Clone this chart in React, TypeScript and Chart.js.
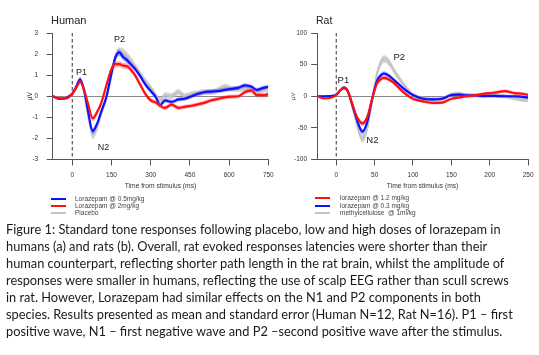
import React, { useEffect, useRef } from "react";
import { Chart, registerables } from "chart.js";

Chart.register(...registerables);

const FONT = "'Liberation Sans', Arial, Helvetica, sans-serif";
const CAPTION_FONT = "Lato, 'Open Sans', sans-serif";

// ---------------- Human data (µV) ----------------
const humanTime = [-75, -50, -25, 0, 15, 30, 45, 60, 78, 95, 110, 130, 150, 165, 180, 195, 210, 225, 240, 260, 280, 300, 320, 336, 355, 380, 406, 430, 457, 482, 508, 530, 559, 584, 610, 635, 661, 686, 706, 731, 750];
const humanLoraz05 = [0.0, -0.12, -0.08, 0.12, 0.45, 0.8, 0.3, -0.7, -1.65, -1.3, -0.75, -0.05, 1.1, 1.85, 2.08, 1.85, 1.7, 1.5, 1.3, 0.95, 0.55, 0.25, -0.05, -0.42, -0.2, -0.27, -0.15, -0.12, 0.0, 0.12, 0.2, 0.22, 0.25, 0.3, 0.35, 0.4, 0.52, 0.45, 0.3, 0.4, 0.45];
const humanLoraz2 = [0.0, -0.1, -0.1, 0.12, 0.4, 0.68, 0.3, -0.35, -1.05, -0.75, -0.35, 0.5, 1.3, 1.52, 1.52, 1.45, 1.42, 1.25, 1.0, 0.55, 0.1, -0.2, -0.3, -0.45, -0.55, -0.4, -0.55, -0.5, -0.45, -0.38, -0.3, -0.2, -0.12, -0.05, -0.02, 0.0, 0.2, 0.28, 0.05, 0.05, 0.1];
const humanPlacebo = [0.0, -0.1, -0.08, 0.12, 0.45, 0.78, 0.2, -0.85, -1.8, -1.45, -0.85, -0.1, 1.0, 1.85, 2.1, 2.05, 1.9, 1.65, 1.4, 1.05, 0.7, 0.4, 0.05, -0.2, 0.05, 0.0, 0.2, 0.0, 0.1, 0.15, 0.2, 0.2, 0.3, 0.45, 0.35, 0.35, 0.4, 0.25, 0.2, 0.3, 0.35];
const humanSE05 = [0.05, 0.06, 0.06, 0.07, 0.08, 0.1, 0.1, 0.12, 0.15, 0.14, 0.12, 0.12, 0.14, 0.15, 0.15, 0.15, 0.14, 0.13, 0.12, 0.12, 0.11, 0.1, 0.1, 0.1, 0.1, 0.1, 0.1, 0.1, 0.1, 0.1, 0.1, 0.1, 0.1, 0.1, 0.1, 0.1, 0.1, 0.1, 0.1, 0.1, 0.1];
const humanSE2 = [0.05, 0.06, 0.06, 0.07, 0.08, 0.1, 0.1, 0.12, 0.14, 0.13, 0.12, 0.12, 0.13, 0.14, 0.14, 0.14, 0.13, 0.13, 0.12, 0.12, 0.11, 0.1, 0.1, 0.1, 0.1, 0.1, 0.1, 0.1, 0.1, 0.1, 0.1, 0.1, 0.1, 0.1, 0.1, 0.1, 0.1, 0.1, 0.1, 0.1, 0.1];
const humanSEPlacebo = [0.06, 0.07, 0.07, 0.08, 0.1, 0.12, 0.14, 0.18, 0.24, 0.22, 0.18, 0.16, 0.18, 0.2, 0.22, 0.22, 0.2, 0.2, 0.18, 0.16, 0.15, 0.14, 0.14, 0.14, 0.14, 0.14, 0.14, 0.14, 0.14, 0.14, 0.14, 0.14, 0.14, 0.14, 0.14, 0.14, 0.14, 0.14, 0.14, 0.14, 0.14];
const humanXTicks = [0, 150, 300, 450, 600, 750];
const humanYTicks = [-3, -2, -1, 0, 1, 2, 3];
const humanPeakNames = ["P1", "N2", "P2"];
const humanPeakMs = [35, 119, 181];
const humanPeakUv = [1.14, -2.43, 2.71];

// ---------------- Rat data (µV) ----------------
const ratTime = [-25, -15, -5, 0, 5, 10, 15, 20, 25, 30, 34, 40, 47, 53, 58, 62, 68, 75, 87, 100, 113, 125, 138, 150, 160, 170, 180, 192, 205, 220, 232, 243, 250];
const ratLoraz03 = [0, 0, 0.5, 2.5, 9, 13.5, 8, -10, -30, -48, -56, -42, -3, 24, 33, 36, 33, 26, 13, 2, -4, -5, -4, 2, 2.5, 1.5, 1.5, 0.5, 0.5, 0, 0, -1, -2];
const ratLoraz12 = [0, -3.5, -1.5, 2, 9, 13, 8, -9, -27, -39, -43, -34, -3, 20, 27, 29, 27, 21, 7, -4, -8, -10.5, -10, -4, -2, 0, 1.5, 4, 5.5, 8, 5, 4, 2];
const ratMethylcellulose = [0, -1, 0.5, 2.5, 9, 13.5, 7, -12, -35, -58, -67, -52, -5, 35, 53, 59, 55, 41, 20, 2, -3, -5, -4, 3, 4, 2, 1.5, 0, 1, 0, -3.5, -6, -6];
const ratSE03 = [1, 1, 1, 1.5, 2, 2.5, 2.5, 3, 3.5, 4, 4, 4, 3.5, 3.5, 3.5, 3.5, 3.5, 3, 3, 2.5, 2.5, 2.5, 2.5, 2.5, 2.5, 2.5, 2.5, 2.5, 2.5, 2.5, 2.5, 2.5, 2.5];
const ratSE12 = [1, 1, 1, 1.5, 2, 2.5, 2.5, 3, 3.5, 4, 4, 4, 3.5, 3.5, 3.5, 3.5, 3.5, 3, 3, 2.5, 2.5, 2.5, 2.5, 2.5, 2.5, 2.5, 2.5, 2.5, 2.5, 2.5, 2.5, 2.5, 2.5];
const ratSEMethyl = [1, 1.5, 1.5, 2, 2.5, 3, 3, 4, 5, 6, 6.5, 6, 5, 5.5, 6, 6, 6, 5, 4, 3, 3, 3, 3, 3, 3, 3, 3, 3, 3, 3, 3, 3, 3];
const ratXTicks = [0, 50, 100, 150, 200, 250];
const ratYTicks = [-100, -50, 0, 50, 100];
const ratPeakNames = ["P1", "N2", "P2"];
const ratPeakMs = [9.3, 47, 82];
const ratPeakUv = [25, -69, 62];

const stimulusOnset = 0;

const BLUE = "#1010ff";
const RED = "#ff1010";
const GREY = "#c4c4c4";
const BLUE_BAND = "rgba(70,70,255,0.42)";
const RED_BAND = "rgba(255,70,70,0.42)";
const GREY_BAND = "rgba(170,170,170,0.5)";
const AXIS = "#555";
const TXT = "#333";

type Series = { mean: number[]; se: number[]; line: string; band: string; label: string };

type Spec = {
  time: number[];
  series: Series[]; // back to front
  xMin: number; xMax: number; yMin: number; yMax: number;
  xTicks: number[]; yTicks: number[];
  peakNames: string[]; peakX: number[]; peakY: number[]; peakSize: number;
  padLeft: number; padRight: number; padTop: number;
  yAxisW: number; xAxisH: number; yTickPad: number; yTitlePad: number; yTitleSize: number;
  w: number; h: number; left: number;
};

const onsetPlugin = {
  id: "onsetLine",
  beforeDatasetsDraw(chart: any) {
    const { ctx, chartArea, scales } = chart;
    const px = scales.x.getPixelForValue(stimulusOnset);
    ctx.save();
    ctx.strokeStyle = "#555";
    ctx.lineWidth = 1.2;
    ctx.setLineDash([3.5, 2.5]);
    ctx.beginPath();
    ctx.moveTo(px, chartArea.top);
    ctx.lineTo(px, chartArea.bottom);
    ctx.stroke();
    ctx.restore();
  },
};

const peakPlugin = {
  id: "peakLabels",
  afterDatasetsDraw(chart: any, _args: any, opts: any) {
    const { ctx, scales } = chart;
    ctx.save();
    ctx.font = `${opts.size}px ${FONT}`;
    ctx.fillStyle = "#222";
    ctx.textAlign = "center";
    ctx.textBaseline = "middle";
    opts.names.forEach((n: string, i: number) => {
      ctx.fillText(n, scales.x.getPixelForValue(opts.xs[i]), scales.y.getPixelForValue(opts.ys[i]));
    });
    ctx.restore();
  },
};

function buildConfig(spec: Spec): any {
  const datasets: any[] = [];
  spec.series.forEach((s, k) => {
    const base = 80 - k * 20;
    datasets.push({
      data: spec.time.map((t, i) => ({ x: t, y: s.mean[i] + s.se[i] })),
      borderWidth: 0, pointRadius: 0, backgroundColor: s.band, fill: "+1",
      order: base + 10, cubicInterpolationMode: "monotone",
    });
    datasets.push({
      data: spec.time.map((t, i) => ({ x: t, y: s.mean[i] - s.se[i] })),
      borderWidth: 0, pointRadius: 0, fill: false,
      order: base + 9, cubicInterpolationMode: "monotone",
    });
    datasets.push({
      label: s.label,
      data: spec.time.map((t, i) => ({ x: t, y: s.mean[i] })),
      borderColor: s.line, borderWidth: 2.2, pointRadius: 0, fill: false,
      order: base, cubicInterpolationMode: "monotone",
    });
  });
  const tickFont = { family: FONT, size: 6.5 };
  return {
    type: "line",
    data: { datasets },
    plugins: [onsetPlugin, peakPlugin],
    options: {
      animation: false,
      responsive: false,
      maintainAspectRatio: false,
      events: [],
      layout: { padding: { left: spec.padLeft, right: spec.padRight, top: spec.padTop, bottom: 0 } },
      plugins: {
        legend: { display: false },
        tooltip: { enabled: false },
        title: { display: false },
        peakLabels: { names: spec.peakNames, xs: spec.peakX, ys: spec.peakY, size: spec.peakSize },
      },
      scales: {
        x: {
          type: "linear",
          min: spec.xMin,
          max: spec.xMax,
          afterBuildTicks: (sc: any) => { sc.ticks = spec.xTicks.map((v) => ({ value: v })); },
          afterFit: (sc: any) => { sc.height = spec.xAxisH; },
          grid: { drawOnChartArea: false, drawTicks: true, tickLength: 6, tickColor: AXIS, tickWidth: 1 },
          border: { display: true, color: AXIS, width: 1 },
          ticks: { font: tickFont, color: TXT, padding: 5.5, maxRotation: 0, autoSkip: false },
          title: { display: true, text: "Time from stimulus (ms)", font: { family: FONT, size: 6.7 }, color: TXT, padding: { top: 0, bottom: 5 } },
        },
        y: {
          type: "linear",
          min: spec.yMin,
          max: spec.yMax,
          afterBuildTicks: (sc: any) => { sc.ticks = spec.yTicks.map((v) => ({ value: v })); },
          afterFit: (sc: any) => { sc.width = spec.yAxisW; },
          grid: {
            drawOnChartArea: true,
            drawTicks: true,
            tickLength: 6,
            tickColor: AXIS,
            lineWidth: 1,
            color: (c: any) => (c.tick && c.tick.value === 0 ? "#8a8a8a" : "rgba(0,0,0,0)"),
          },
          border: { display: true, color: AXIS, width: 1 },
          ticks: { font: tickFont, color: TXT, padding: spec.yTickPad, autoSkip: false },
          title: { display: true, text: "µV", font: { family: FONT, size: spec.yTitleSize }, color: TXT, padding: { top: spec.yTitlePad, bottom: 0 } },
        },
      },
    },
  };
}

function ErpChart({ spec }: { spec: Spec }) {
  const ref = useRef<HTMLCanvasElement | null>(null);
  useEffect(() => {
    if (!ref.current) return;
    const chart = new Chart(ref.current, buildConfig(spec));
    return () => chart.destroy();
  }, []);
  return (
    <canvas
      ref={ref}
      width={spec.w}
      height={spec.h}
      style={{ position: "absolute", left: spec.left, top: 0, width: spec.w, height: spec.h }}
    />
  );
}

const humanSpec: Spec = {
  time: humanTime,
  series: [
    { mean: humanPlacebo, se: humanSEPlacebo, line: GREY, band: GREY_BAND, label: "Placebo" },
    { mean: humanLoraz05, se: humanSE05, line: BLUE, band: BLUE_BAND, label: "Lorazepam @ 0.5mg/kg" },
    { mean: humanLoraz2, se: humanSE2, line: RED, band: RED_BAND, label: "Lorazepam @ 2mg/kg" },
  ],
  xMin: -75, xMax: 750, yMin: -3, yMax: 3,
  xTicks: humanXTicks, yTicks: humanYTicks,
  peakNames: humanPeakNames, peakX: humanPeakMs, peakY: humanPeakUv, peakSize: 9,
  padLeft: 22, padRight: 11.7, padTop: 33,
  yAxisW: 30.7, xAxisH: 35.5, yTickPad: 8.5, yTitlePad: 4.6, yTitleSize: 6.5,
  w: 280, h: 195, left: 0,
};

const ratSpec: Spec = {
  time: ratTime,
  series: [
    { mean: ratMethylcellulose, se: ratSEMethyl, line: GREY, band: GREY_BAND, label: "methylcellulose  @ 1ml/kg" },
    { mean: ratLoraz03, se: ratSE03, line: BLUE, band: BLUE_BAND, label: "lorazepam @ 0.3 mg/kg" },
    { mean: ratLoraz12, se: ratSE12, line: RED, band: RED_BAND, label: "lorazepam @ 1.2 mg/kg" },
  ],
  xMin: -25, xMax: 250, yMin: -100, yMax: 100,
  xTicks: ratXTicks, yTicks: ratYTicks,
  peakNames: ratPeakNames, peakX: ratPeakMs, peakY: ratPeakUv, peakSize: 9.5,
  padLeft: 15, padRight: 6.7, padTop: 33,
  yAxisW: 32.1, xAxisH: 35.5, yTickPad: 4, yTitlePad: 4.4, yTitleSize: 6,
  w: 269, h: 195, left: 270,
};

const humanLegend = [
  { label: "Lorazepam @ 0.5mg/kg", color: BLUE },
  { label: "Lorazepam @ 2mg/kg", color: RED },
  { label: "Placebo", color: GREY },
];
const ratLegend = [
  { label: "lorazepam @ 1.2 mg/kg", color: RED },
  { label: "lorazepam @ 0.3 mg/kg", color: BLUE },
  { label: "methylcellulose\u00a0\u00a0@ 1ml/kg", color: GREY },
];

const captionLines = [
  "Figure 1: Standard tone responses following placebo, low and high doses of lorazepam in",
  "humans (a) and rats (b). Overall, rat evoked responses latencies were shorter than their",
  "human counterpart, reflecting shorter path length in the rat brain, whilst the amplitude of",
  "responses were smaller in humans, reflecting the use of scalp EEG rather than scull screws",
  "in rat. However, Lorazepam had similar effects on the N1 and P2 components in both",
  "species. Results presented as mean and standard error (Human N=12, Rat N=16). P1 \u2013 first",
  "positive wave, N1 \u2013 first negative wave and P2 \u2013second positive wave after the stimulus.",
];

function Legend({ items, lineX, textX, rowsY }: { items: { label: string; color: string }[]; lineX: number; textX: number; rowsY: number[] }) {
  return (
    <>
      {items.map((it, i) => (
        <React.Fragment key={i}>
          <div style={{ position: "absolute", left: lineX, top: rowsY[i] - 1, width: 15, height: 2, background: it.color }} />
          <div
            style={{
              position: "absolute", left: textX, top: rowsY[i] - 4, height: 8, lineHeight: "8px",
              fontFamily: FONT, fontSize: 6.5, color: "#444", whiteSpace: "nowrap",
            }}
          >
            {it.label}
          </div>
        </React.Fragment>
      ))}
    </>
  );
}

export default function App() {
  return (
    <div style={{ position: "absolute", left: 0, top: 0, width: 539, height: 355, background: "#fff", overflow: "hidden" }}>
      <ErpChart spec={humanSpec} />
      <ErpChart spec={ratSpec} />
      <div style={{ position: "absolute", left: 51, top: 14, fontFamily: FONT, fontSize: 11, lineHeight: "12px", color: "#222" }}>Human</div>
      <div style={{ position: "absolute", left: 316, top: 14, fontFamily: FONT, fontSize: 10.5, lineHeight: "12px", color: "#222" }}>Rat</div>
      <Legend items={humanLegend} lineX={51} textX={75} rowsY={[199, 206, 213]} />
      <Legend items={ratLegend} lineX={315} textX={340} rowsY={[198, 206, 213]} />
      <div style={{ position: "absolute", left: 6, top: 221, fontFamily: CAPTION_FONT, fontSize: 12.8, lineHeight: "17px", color: "#1a1a1a" }}>
        {captionLines.map((l, i) => (
          <div key={i} style={{ whiteSpace: "nowrap" }}>{l}</div>
        ))}
      </div>
    </div>
  );
}
